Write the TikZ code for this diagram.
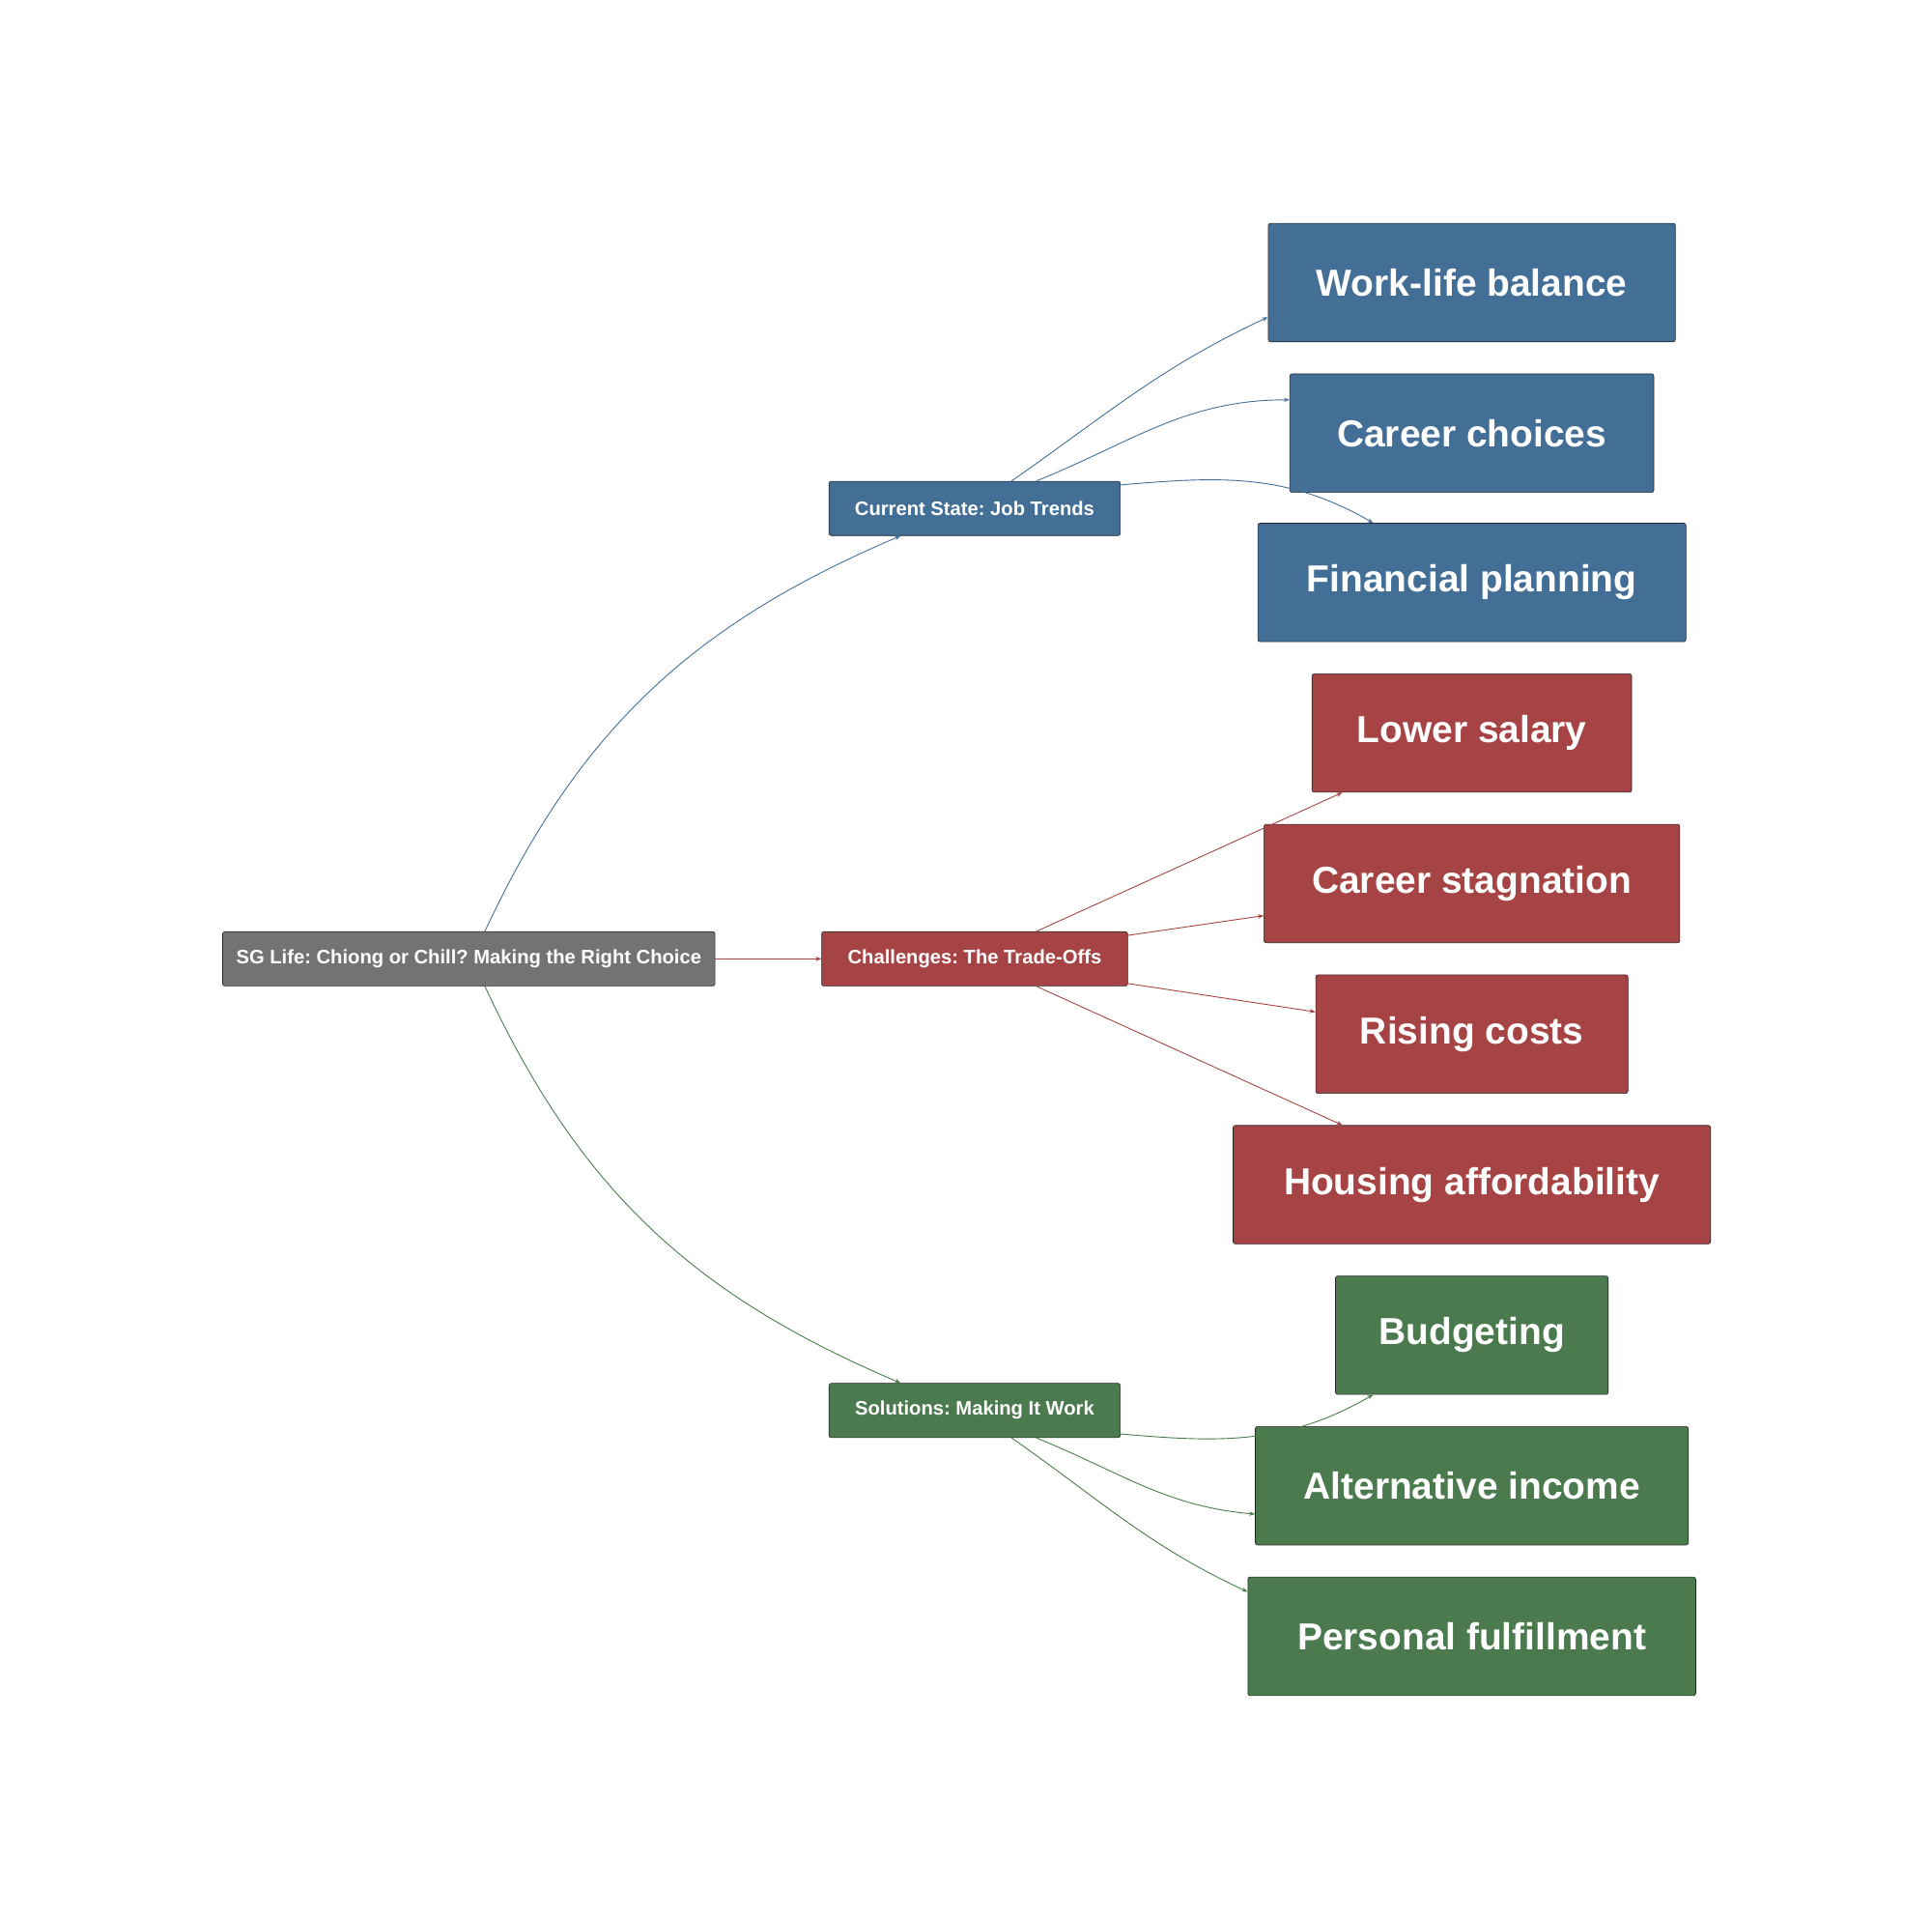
\documentclass[tikz,border=0pt]{standalone}
\usepackage{fontspec}
\setmainfont{Liberation Sans}
\usetikzlibrary{arrows.meta}
\definecolor{rootgray}{HTML}{737373}
\definecolor{jobblue}{HTML}{436F97}
\definecolor{tradered}{HTML}{A64344}
\definecolor{workgreen}{HTML}{4A7A4E}
\tikzset{
  box/.style={draw=black!85, rounded corners=1.5pt, text=white, font=\bfseries, inner sep=0pt},
  hub/.style={box, font=\fontsize{13.5}{16}\selectfont\bfseries, minimum height=1.32cm},
  leaf/.style={box, font=\fontsize{26}{30}\selectfont\bfseries, minimum height=2.88cm},
  link/.style={-{Stealth[length=4pt,width=3pt]}, line width=0.6pt}
}
\frenchspacing
\begin{document}
\begin{tikzpicture}[x=0.03cm, y=-0.03cm]
\useasboundingbox (0,0) rectangle (1566,1553);
\node[hub, fill=rootgray, minimum width=11.97cm] (root) at (380,777) {SG Life: Chiong or Chill? Making the Right Choice};
\node[hub, fill=jobblue, minimum width=7.08cm] (cur) at (790,412) {Current State: Job Trends};
\node[hub, fill=tradered, minimum width=7.44cm] (chal) at (790,777) {Challenges: The Trade-Offs};
\node[hub, fill=workgreen, minimum width=7.08cm] (sol) at (790,1143) {Solutions: Making It Work};

\node[leaf, fill=jobblue, minimum width=9.9cm] (wl) at (1193,229) {Work-life balance};
\node[leaf, fill=jobblue, minimum width=8.85cm] (cc) at (1193,351) {Career choices};
\node[leaf, fill=jobblue, minimum width=10.41cm] (fp) at (1193,472) {Financial planning};
\node[leaf, fill=tradered, minimum width=7.77cm] (ls) at (1193,594) {Lower salary};
\node[leaf, fill=tradered, minimum width=10.11cm] (cs) at (1193,716) {Career stagnation};
\node[leaf, fill=tradered, minimum width=7.59cm] (rc) at (1193,838) {Rising costs};
\node[leaf, fill=tradered, minimum width=11.61cm] (ha) at (1193,960) {Housing affordability};
\node[leaf, fill=workgreen, minimum width=6.63cm] (bu) at (1193,1082) {Budgeting};
\node[leaf, fill=workgreen, minimum width=10.53cm] (ai) at (1193,1204) {Alternative income};
\node[leaf, fill=workgreen, minimum width=10.89cm] (pf) at (1193,1326) {Personal fulfillment};

% root to hubs
\draw[link, jobblue] ([xshift=0.39cm]root.north) to[out=65,in=203] ([xshift=-1.8cm]cur.south);
\draw[link, tradered] (root.east) -- (chal.west);
\draw[link, workgreen] ([xshift=0.39cm]root.south) to[out=-65,in=157] ([xshift=-1.8cm]sol.north);

% current state
\draw[link, jobblue] ([xshift=0.9cm]cur.north) to[out=35,in=205] ([yshift=-0.84cm]wl.west);
\draw[link, jobblue] ([xshift=1.5cm]cur.north) to[out=22,in=180] ([yshift=0.81cm]cc.west);
\draw[link, jobblue] ([yshift=0.57cm]cur.east) to[out=5,in=150] ([xshift=-2.4cm]fp.north);

% challenges
\draw[link, tradered] ([xshift=1.5cm]chal.north) -- ([xshift=-3.15cm]ls.south);
\draw[link, tradered] ([yshift=0.57cm]chal.east) -- ([yshift=-0.78cm]cs.west);
\draw[link, tradered] ([yshift=-0.6cm]chal.east) -- ([yshift=0.54cm]rc.west);
\draw[link, tradered] ([xshift=1.5cm]chal.south) -- ([xshift=-3.15cm]ha.north);

% solutions
\draw[link, workgreen] ([yshift=-0.57cm]sol.east) to[out=-5,in=210] ([xshift=-2.4cm]bu.south);
\draw[link, workgreen] ([xshift=1.5cm]sol.south) to[out=-22,in=175] ([yshift=-0.69cm]ai.west);
\draw[link, workgreen] ([xshift=0.9cm]sol.south) to[out=-35,in=155] ([yshift=1.08cm]pf.west);
\end{tikzpicture}
\end{document}
